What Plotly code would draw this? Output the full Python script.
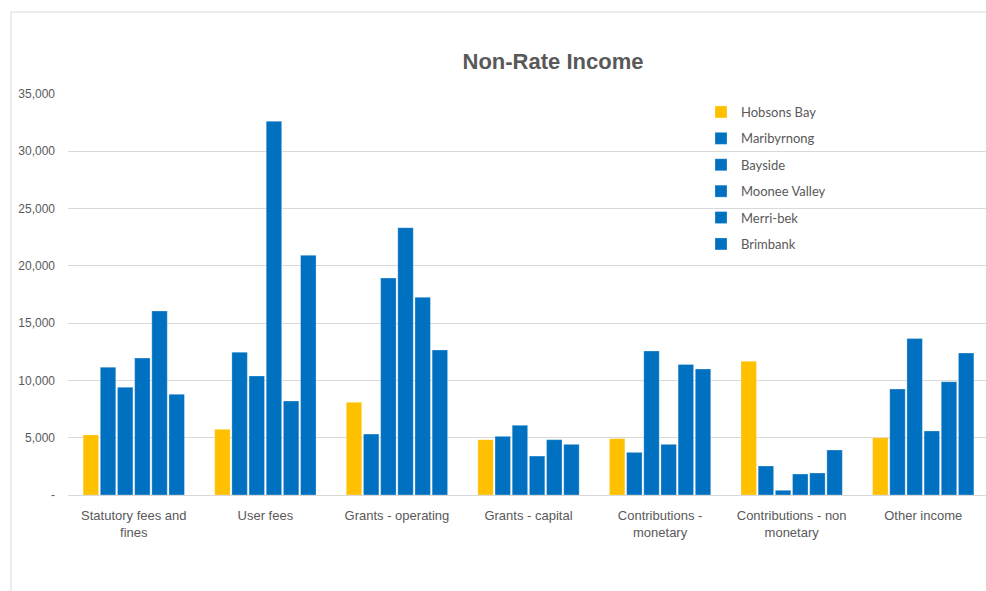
import plotly.graph_objects as go

categories = ["Statutory fees and<br>fines", "User fees", "Grants - operating", "Grants - capital",
              "Contributions -<br>monetary", "Contributions - non<br>monetary", "Other income"]
series_names = ["Hobsons Bay", "Maribyrnong", "Bayside", "Moonee Valley", "Merri-bek", "Brimbank"]
hobsons_bay = [5240, 5730, 8090, 4830, 4920, 11670, 5000]
maribyrnong = [11150, 12460, 5320, 5120, 3720, 2530, 9250]
bayside = [9400, 10390, 18940, 6080, 12570, 410, 13650]
moonee_valley = [11960, 32620, 23330, 3400, 4420, 1830, 5590]
merri_bek = [16060, 8200, 17250, 4830, 11400, 1920, 9890]
brimbank = [8790, 20920, 12660, 4420, 11000, 3930, 12390]
series_values = [hobsons_bay, maribyrnong, bayside, moonee_valley, merri_bek, brimbank]
colors = ["#FFC000", "#0070C0", "#0070C0", "#0070C0", "#0070C0", "#0070C0"]
y_tickvals = [0, 5000, 10000, 15000, 20000, 25000, 30000, 35000]
y_ticktext = ["-", "5,000", "10,000", "15,000", "20,000", "25,000", "30,000", "35,000"]

narrow = "Liberation Sans Narrow, Arial Narrow, sans-serif"
fig = go.Figure()
for name, vals, col in zip(series_names, series_values, colors):
    fig.add_trace(go.Bar(name=name, x=categories, y=vals, legendgroup=name,
                         marker=dict(color=col, line=dict(color="rgba(255,255,255,0.35)", width=0.8))))

fig.update_layout(
    width=986, height=591,
    margin=dict(l=68, r=0, t=94, b=96),
    paper_bgcolor="white", plot_bgcolor="white",
    barmode="group", bargap=0.217, bargroupgap=0.1,
    title=dict(text="<b>Non-Rate Income</b>", x=553/986, xanchor="center", xref="container",
               y=1 - 61/591, yanchor="middle", yref="container",
               font=dict(family=narrow, size=22, color="#595959")),
    legend=dict(x=(701-68)/918, xanchor="left", y=(495-97)/401, yanchor="top",
                bgcolor="rgba(0,0,0,0)", tracegroupgap=6.5, itemwidth=30,
                font=dict(family="Lato, sans-serif", size=13, color="#595959")),
    showlegend=True,
)
fig.update_xaxes(range=[-0.5, 6.477], showgrid=False, showline=False, ticks="",
                 ticklabelstandoff=11,
                 tickfont=dict(family=narrow, size=13, color="#595959"), tickangle=0)
fig.update_yaxes(range=[0, 35000], tickvals=y_tickvals, ticktext=y_ticktext,
                 showgrid=True, gridcolor="#d9d9d9", gridwidth=1, zeroline=True,
                 zerolinecolor="#d9d9d9", zerolinewidth=1, showline=False, ticks="",
                 ticklabelstandoff=12,
                 tickfont=dict(family="Liberation Sans, Arial, sans-serif", size=12, color="#595959"))
# chart frame border
fig.add_shape(type="rect", xref="paper", yref="paper",
              x0=(11-68)/918, x1=1.05, y0=-0.5, y1=(495-12)/401,
              line=dict(color="#d9d9d9", width=1), fillcolor="rgba(0,0,0,0)", layer="below")
fig.write_html("out.html")
